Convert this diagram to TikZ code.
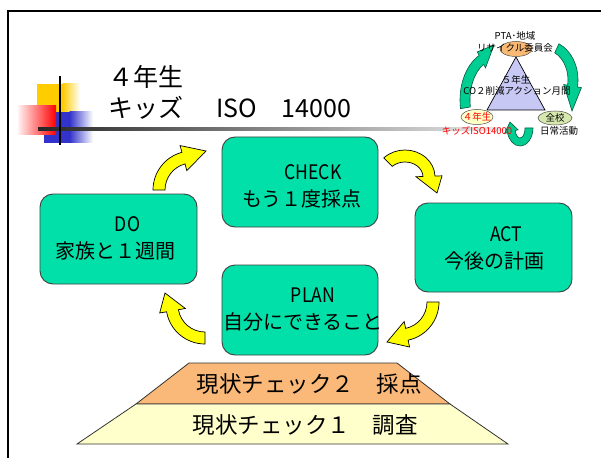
\documentclass[tikz,border=0pt]{standalone}
\usepackage{fontspec}
\setmainfont{Noto Sans CJK JP}
\usepackage{graphicx}
\usetikzlibrary{calc}
\definecolor{boxgreen}{RGB}{0,224,168}
\definecolor{arrowyellow}{RGB}{255,255,0}
\definecolor{smallgreen}{RGB}{0,205,145}
\definecolor{smallgreenline}{RGB}{0,90,60}
\definecolor{sqyellow}{RGB}{255,204,0}
\definecolor{sqblue}{RGB}{51,51,204}
\definecolor{sqred}{RGB}{255,0,0}
\definecolor{trapA}{RGB}{250,185,120}
\definecolor{trapB}{RGB}{255,255,204}
\definecolor{triLav}{RGB}{200,200,245}
\definecolor{ellOrange}{RGB}{250,185,115}
\definecolor{ellYellow}{RGB}{255,255,200}
\definecolor{ellGreen}{RGB}{215,232,175}
\def\arrW{6}\def\arrH{13}
% #1 style, #2 cx, #3 cy, #4 rx, #5 ry, #6 start angle, #7 end angle, #8 tip x, #9 tip y
\newcommand\curvedarrow[9]{%
  \pgfmathsetmacro\oRx{#4+\arrW}\pgfmathsetmacro\oRy{#5+\arrW}%
  \pgfmathsetmacro\iRx{#4-\arrW}\pgfmathsetmacro\iRy{#5-\arrW}%
  \pgfmathsetmacro\hoRx{#4+\arrH}\pgfmathsetmacro\hoRy{#5+\arrH}%
  \pgfmathsetmacro\hiRx{#4-\arrH}\pgfmathsetmacro\hiRy{#5-\arrH}%
  \pgfmathsetmacro\pAx{#2+\oRx*cos(#6)}\pgfmathsetmacro\pAy{#3+\oRy*sin(#6)}%
  \pgfmathsetmacro\pBx{#2+\hoRx*cos(#7)}\pgfmathsetmacro\pBy{#3+\hoRy*sin(#7)}%
  \pgfmathsetmacro\pCx{#2+\hiRx*cos(#7)}\pgfmathsetmacro\pCy{#3+\hiRy*sin(#7)}%
  \pgfmathsetmacro\pDx{#2+\iRx*cos(#7)}\pgfmathsetmacro\pDy{#3+\iRy*sin(#7)}%
  \draw[#1] (\pAx,\pAy) arc[start angle=#6, end angle=#7, x radius=\oRx, y radius=\oRy]
    -- (\pBx,\pBy) -- (#8,#9) -- (\pCx,\pCy) -- (\pDx,\pDy)
    arc[start angle=#7, end angle=#6, x radius=\iRx, y radius=\iRy] -- cycle;
}
\newcommand\hwl[1]{\scalebox{0.88}[1]{#1}}
\begin{document}
\begin{tikzpicture}[x=1pt,y=-1pt,
  pbox/.style={draw=black!75, line width=0.9pt, fill=boxgreen, rounded corners=13pt, inner sep=0pt},
  lbl/.style={font=\fontsize{20}{27}\selectfont, align=center, inner sep=0pt},
  titletext/.style={font=\fontsize{25}{30}\selectfont, anchor=west, inner sep=0pt},
  traptext/.style={font=\fontsize{22.5}{26}\selectfont, inner sep=0pt},
  sm/.style={font=\fontsize{9.5}{11}\selectfont, inner sep=0pt},
  yarrow/.style={fill=arrowyellow, draw=black, line width=0.7pt},
  garrow/.style={fill=smallgreen, draw=smallgreenline, line width=0.6pt},
  ell/.style={draw=black!70, line width=0.5pt}]
\useasboundingbox (0,0) rectangle (601,457);
\fill[white] (0,0) rectangle (601,457);
% frame
\draw[line width=2pt] (8.3,460) -- (8.3,11) -- (604,11);
% decorative squares
\fill[sqyellow] (37,84) rectangle (63,112);
\shade[left color=sqyellow, right color=white] (62.5,84) rectangle (80,112);
\fill[sqblue] (44,112) rectangle (70,143);
\shade[left color=sqblue, right color=white] (69.5,112) rectangle (93,143);
\shade[left color=sqred!5, right color=sqred] (18,106) rectangle (56,135);
\shade[left color=black!85, right color=black!7] (38,127.8) rectangle (512,131);
\draw[line width=2pt] (60,76) -- (60,145);
% title
\node[titletext] (t1) at (108,77) {４年生};
\node[titletext] (t2) at (108,108) {キッズ　\hspace{8pt}ISO　14000};
% small diagram
\filldraw[fill=triLav, draw=black, line width=0.7pt] (516,57) -- (545,110) -- (487,110) -- cycle;
\def\arrW{5}\def\arrH{9}
\curvedarrow{garrow}{495}{100}{30}{45}{170}{243}{494}{45}
\curvedarrow{garrow}{545}{80}{28}{35}{295}{370}{572}{111}
\def\arrW{4}\def\arrH{7}
\curvedarrow{garrow}{520}{128}{9}{14}{0}{165}{510}{122}
\filldraw[ell, fill=ellOrange] (516,49) ellipse [x radius=16, y radius=7.5];
\filldraw[ell, fill=ellYellow] (477,117) ellipse [x radius=16, y radius=7.5];
\filldraw[ell, fill=ellGreen] (555,118) ellipse [x radius=17, y radius=7];
\node[sm] (pta) at (515,36) {PTA･地域};
\node[sm] (recy) at (515,48) {リサイクル委員会};
\node[sm] (g5) at (516,80) {５年生};
\node[sm] (co2) at (517,91) {CO２削減アクション月間};
\node[sm, text=red] (g4) at (477,117) {４年生};
\node[sm] (zen) at (555,118) {全校};
\node[sm, text=red] (kids) at (477,131) {キッズISO14000};
\node[sm] (daily) at (559,131) {日常活動};
% PDCA boxes
\node[pbox, minimum width=156pt, minimum height=90pt] (check) at (300,182) {};
\node[pbox, minimum width=157pt, minimum height=90pt] (do) at (118.5,239) {};
\node[pbox, minimum width=157pt, minimum height=89pt] (act) at (493.5,247.5) {};
\node[pbox, minimum width=156pt, minimum height=90pt] (plan) at (300,310) {};
\node[lbl] (checkT) at (302,186) {\hspace*{22pt}\hwl{CHECK}\\もう１度採点};
\node[lbl] (doT) at (115.5,238) {\hspace*{24pt}\hwl{DO}\\家族と１週間};
\node[lbl] (actT) at (494,248.5) {\hspace*{24pt}\hwl{ACT}\\今後の計画};
\node[lbl] (planT) at (303,309.5) {\hspace*{20pt}\hwl{PLAN}\\自分にできること};
% yellow curved arrows
\def\arrW{6}\def\arrH{13}
\curvedarrow{yarrow}{192}{190}{33}{33}{180}{255}{206}{151}
\curvedarrow{yarrow}{405}{177}{24}{21}{225}{358}{437}{193}
\curvedarrow{yarrow}{400}{302}{33}{33}{0}{78}{387}{342}
\curvedarrow{yarrow}{205}{305}{33}{33}{90}{170}{165}{293}
% base levels
\filldraw[fill=trapA, draw=black!80, line width=0.8pt] (189,363) -- (397,363) -- (450,404) -- (136,404) -- cycle;
\filldraw[fill=trapB, draw=black!80, line width=0.8pt] (136,404) -- (450,404) -- (508,444) -- (77,444) -- cycle;
\node[traptext] (lvl2) at (309,384) {現状チェック２　採点};
\node[traptext] (lvl1) at (305,425) {現状チェック１　調査};
\end{tikzpicture}
\end{document}
